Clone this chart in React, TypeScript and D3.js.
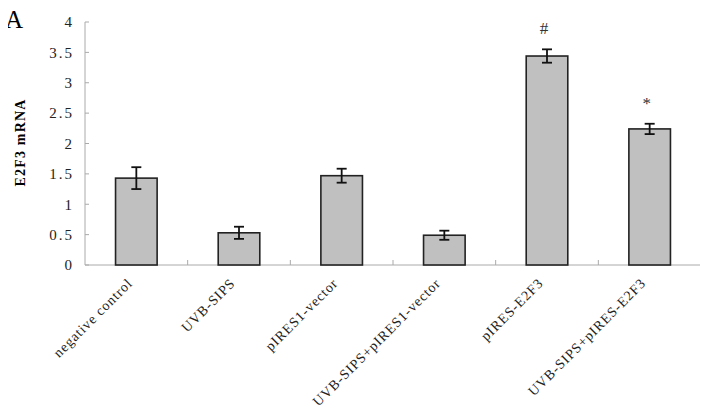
import React, { useRef, useEffect } from 'react';
import * as d3 from 'd3';

// groups on the x axis
const categories = [
    'negative control',
    'UVB-SIPS',
    'pIRES1-vector',
    'UVB-SIPS+pIRES1-vector',
    'pIRES-E2F3',
    'UVB-SIPS+pIRES-E2F3'
];
// mean E2F3 mRNA level
const values = [1.43, 0.53, 1.47, 0.49, 3.44, 2.24];
// error bar half width
const errors = [0.18, 0.1, 0.115, 0.075, 0.11, 0.085];
// significance markers
const markers = ['', '', '', '', '#', '*'];
const yTicks = [0, 0.5, 1, 1.5, 2, 2.5, 3, 3.5, 4];

const W = 708;
const H = 414;
const FONT = '"Liberation Serif", "DejaVu Serif", serif';

const E2F3Chart = () => {
    const ref = useRef<SVGSVGElement | null>(null);

    useEffect(() => {
        if (!ref.current) return;
        const svg = d3.select(ref.current);
        svg.selectAll('*').remove();

        const left = 85, right = 701, top = 22, bottom = 265;

        const x = d3.scaleBand<string>()
            .domain(categories)
            .range([left, right])
            .padding(0);

        const y = d3.scaleLinear()
            .domain([0, 4])
            .range([bottom, top]);

        const barW = x.bandwidth() * 0.405;
        const cx = (d: string) => (x(d) as number) + x.bandwidth() / 2;

        // panel letter
        svg.append('text')
            .attr('x', 5)
            .attr('y', 28)
            .attr('font-family', FONT)
            .attr('font-size', 25)
            .attr('fill', '#000')
            .text('A');

        // y axis
        svg.append('line')
            .attr('x1', left).attr('x2', left)
            .attr('y1', top).attr('y2', bottom)
            .attr('stroke', '#aaa');

        svg.append('g')
            .selectAll('line')
            .data(yTicks)
            .join('line')
            .attr('x1', left).attr('x2', left + 4)
            .attr('y1', d => y(d)).attr('y2', d => y(d))
            .attr('stroke', '#aaa');

        svg.append('g')
            .selectAll('text')
            .data(yTicks)
            .join('text')
            .attr('x', 74)
            .attr('y', d => y(d))
            .attr('dy', '0.35em')
            .attr('text-anchor', 'end')
            .attr('font-family', FONT)
            .attr('font-size', 15)
            .attr('letter-spacing', 2)
            .attr('fill', '#222')
            .text(d => String(d));

        // y axis title
        svg.append('text')
            .attr('transform', `translate(25,${(top + bottom) / 2 - 1}) rotate(-90)`)
            .attr('text-anchor', 'middle')
            .attr('font-family', FONT)
            .attr('font-size', 14)
            .attr('letter-spacing', 1.2)
            .attr('font-weight', 'bold')
            .attr('fill', '#000')
            .text('E2F3 mRNA');

        // x axis
        svg.append('line')
            .attr('x1', left).attr('x2', right)
            .attr('y1', bottom).attr('y2', bottom)
            .attr('stroke', '#aaa');

        const bounds = categories.map(d => x(d) as number).concat([right]);
        svg.append('g')
            .selectAll('line')
            .data(bounds.slice(1))
            .join('line')
            .attr('x1', d => d).attr('x2', d => d)
            .attr('y1', bottom).attr('y2', bottom - 5)
            .attr('stroke', '#aaa');

        // bars
        svg.append('g')
            .selectAll('rect')
            .data(categories)
            .join('rect')
            .attr('x', d => cx(d) - barW / 2)
            .attr('y', (d, i) => y(values[i]))
            .attr('width', barW)
            .attr('height', (d, i) => bottom - y(values[i]))
            .attr('fill', '#c0c0c0')
            .attr('stroke', '#222')
            .attr('stroke-width', 1.6);

        // error bars
        const eb = svg.append('g')
            .attr('stroke', '#111')
            .attr('stroke-width', 1.8);
        categories.forEach((d, i) => {
            const c = cx(d);
            const hi = y(values[i] + errors[i]);
            const lo = y(values[i] - errors[i]);
            eb.append('line').attr('x1', c).attr('x2', c).attr('y1', hi).attr('y2', lo);
            eb.append('line').attr('x1', c - 5).attr('x2', c + 5).attr('y1', hi).attr('y2', hi);
            eb.append('line').attr('x1', c - 5).attr('x2', c + 5).attr('y1', lo).attr('y2', lo);
        });

        // significance marks
        svg.append('g')
            .selectAll('text')
            .data(categories)
            .join('text')
            .attr('x', d => cx(d) - 3)
            .attr('y', (d, i) => y(values[i] + errors[i]) - 15)
            .attr('text-anchor', 'middle')
            .attr('font-family', FONT)
            .attr('font-size', 17)
            .attr('fill', '#333')
            .text((d, i) => markers[i]);

        // category labels
        svg.append('g')
            .selectAll('text')
            .data(categories)
            .join('text')
            .attr('transform', d => `translate(${cx(d) - 3},${bottom + 19}) rotate(-45)`)
            .attr('text-anchor', 'end')
            .attr('font-family', FONT)
            .attr('font-size', 14)
            .attr('letter-spacing', 0.9)
            .attr('fill', '#222')
            .text(d => d);
    }, []);

    return <svg ref={ref} width={W} height={H} style={{ display: 'block', background: '#fff' }} />;
};

export default function App() {
    return (
        <div style={{ margin: -8 }}>
            <E2F3Chart />
        </div>
    );
}
